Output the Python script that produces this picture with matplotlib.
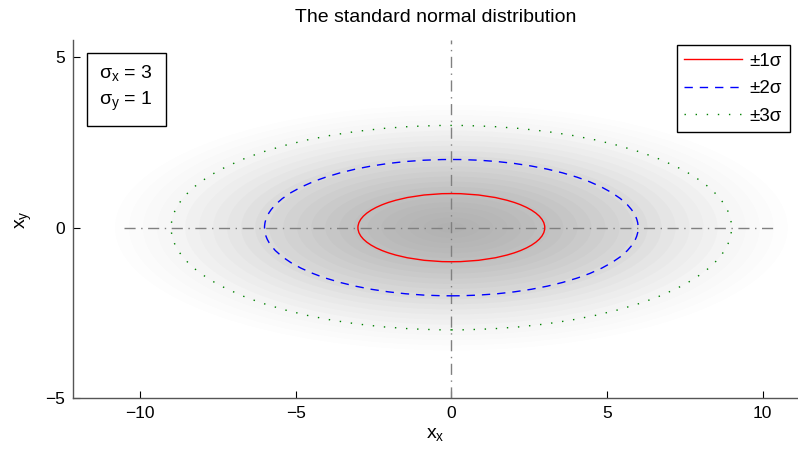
import matplotlib.pyplot as plt
from matplotlib.patches import Ellipse
from matplotlib.lines import Line2D

plt.rcParams['font.family'] = 'Liberation Sans'
plt.rcParams['mathtext.fontset'] = 'custom'
plt.rcParams['mathtext.rm'] = 'Liberation Sans'
plt.rcParams['mathtext.it'] = 'Liberation Sans'

# --- parametri ---
sigma_x = 3
sigma_y = 1
sigma_levels = [1, 2, 3]
level_labels = ['\u00b11\u03c3', '\u00b12\u03c3', '\u00b13\u03c3']
level_colors = ['#ff0000', '#0000ff', '#008000']
level_styles = ['-', (0, (6, 5)), (0, (1, 7))]

# nuvola di punti resa come sfumatura: livelli (in sigma) e opacita' di ogni strato
cloud_levels = [3.6, 3.45, 3.3, 3.15, 3.0, 2.85, 2.7, 2.55, 2.4, 2.25, 2.1, 1.95,
                1.8, 1.65, 1.5, 1.35, 1.2, 1.05, 0.9, 0.75, 0.6, 0.45, 0.3, 0.15]
cloud_alpha = [0.01, 0.01, 0.01, 0.012, 0.015, 0.018, 0.02, 0.024, 0.027, 0.03,
               0.03, 0.032, 0.032, 0.032, 0.032, 0.03, 0.03, 0.028, 0.025, 0.022,
               0.02, 0.018, 0.015, 0.012]

xticks = [-10, -5, 0, 5, 10]
yticks = [-5, 0, 5]

fig = plt.figure(figsize=(7.98, 4.57), dpi=100)
ax = fig.add_axes([0.0915, 0.129, 0.908, 0.783])

# nuvola (piu' densa al centro)
for k, a in zip(cloud_levels, cloud_alpha):
    ax.add_patch(Ellipse((0, 0), 2 * k * sigma_x, 2 * k * sigma_y,
                         facecolor=(0.35, 0.35, 0.35, a), edgecolor='none',
                         linewidth=0, zorder=1))

# assi tratteggiati
ax.plot([-3.5 * sigma_x, 3.5 * sigma_x], [0, 0], color='#808080',
        linestyle=(0, (8, 4, 1, 4)), linewidth=1, zorder=2)
ax.axvline(0, color='#808080', linestyle=(0, (8, 4, 1, 4)), linewidth=1, zorder=2)

# ellissi +-1,2,3 sigma
handles = []
for k, lab, c, ls in zip(sigma_levels, level_labels, level_colors, level_styles):
    ax.add_patch(Ellipse((0, 0), 2 * k * sigma_x, 2 * k * sigma_y, fill=False,
                         edgecolor=c, linestyle=ls, linewidth=1.0, zorder=3))
    handles.append(Line2D([], [], color=c, linestyle=ls, linewidth=1.0, label=lab))

ax.set_xlim(-12.15, 11.12)
ax.set_ylim(-5, 5.5)
ax.set_xticks(xticks)
ax.set_yticks(yticks)
ax.set_xticklabels(['\u2212' + str(abs(t)) if t < 0 else str(t) for t in xticks])
ax.set_yticklabels(['\u2212' + str(abs(t)) if t < 0 else str(t) for t in yticks])
ax.tick_params(direction='in', length=5, width=0.8, labelsize=12.5, colors='black',
               pad=6)
for s in ['top', 'right']:
    ax.spines[s].set_visible(False)
for s in ['left', 'bottom']:
    ax.spines[s].set_color('#555555')
    ax.spines[s].set_linewidth(1.0)

ax.set_title('The standard normal distribution', fontsize=14, pad=13)
ax.set_xlabel(r'$\mathregular{x_x}$', fontsize=14, labelpad=3)
ax.set_ylabel(r'$\mathregular{x_y}$', fontsize=14, labelpad=8)

# riquadro sigma
ax.text(-11.3, 4.1, '$\\mathregular{\u03c3_x}$ = 3\n$\\mathregular{\u03c3_y}$ = 1',
        fontsize=14, va='center', ha='left', linespacing=1.5,
        bbox=dict(boxstyle='square,pad=0.65', facecolor='white', edgecolor='black',
                  linewidth=1.0), zorder=5)

leg = ax.legend(handles=handles, loc='upper right', fontsize=13.5, handlelength=3.1,
                handletextpad=0.4, borderpad=0.4, labelspacing=0.55,
                fancybox=False, framealpha=1, edgecolor='black',
                bbox_to_anchor=(1.002, 1.012))
leg.get_frame().set_linewidth(1.0)

plt.savefig('out.png', dpi=100)
